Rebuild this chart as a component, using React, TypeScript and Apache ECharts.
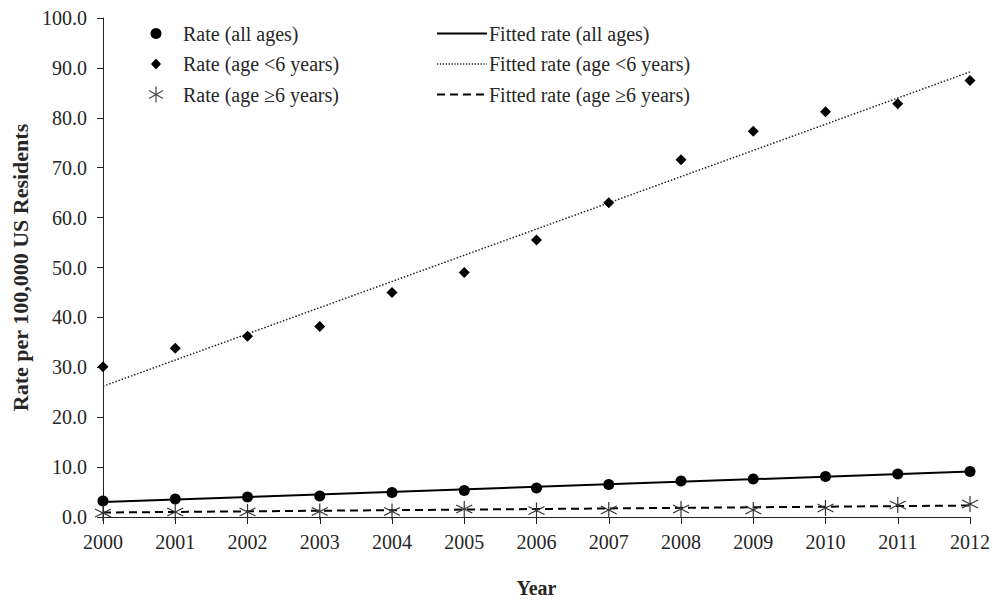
import React, { useEffect, useRef } from "react";
import * as echarts from "echarts";

const years = ["2000","2001","2002","2003","2004","2005","2006","2007","2008","2009","2010","2011","2012"];
const rateAll = [3.2, 3.6, 4.0, 4.2, 4.9, 5.3, 5.8, 6.5, 7.2, 7.6, 8.1, 8.6, 9.1];
const rateUnder6 = [30.1, 33.8, 36.2, 38.2, 45.0, 49.0, 55.5, 63.0, 71.6, 77.3, 81.2, 82.8, 87.5];
const rateOver6 = [0.8, 1.0, 1.0, 1.1, 1.1, 1.6, 1.3, 1.4, 1.6, 1.4, 1.8, 2.4, 2.6];
// fitted trend lines: values read at the first and last year only
const fitAll = [3.0, null, null, null, null, null, null, null, null, null, null, null, 9.1];
const fitUnder6 = [26.2, null, null, null, null, null, null, null, null, null, null, null, 89.2];
const fitOver6 = [0.9, null, null, null, null, null, null, null, null, null, null, null, 2.3];
const yTicks = { min: 0, max: 100, interval: 10 };

const FONT = "'Liberation Serif', 'Times New Roman', serif";
const TXT = "#262626";
const ASTERISK = "path://M10,0 L10,20 M1.34,5 L18.66,15 M1.34,15 L18.66,5";

export default function App() {
  const ref = useRef<HTMLDivElement>(null);
  useEffect(() => {
    if (!ref.current) return;
    const chart = echarts.init(ref.current, null, { renderer: "svg" });
    const rows = [33.5, 64, 94.5];
    const lx = 156;
    const tx = 183;
    const rx1 = 437, rx2 = 487, rtx = 489;
    const textStyle = (x: number, y: number, t: string) => ({
      type: "text", x, y,
      style: { text: t, font: `20px ${FONT}`, fill: TXT, textVerticalAlign: "middle", textAlign: "left" },
    });
    const ast = (cx: number, cy: number, r: number) => [
      { type: "line", shape: { x1: cx, y1: cy - r, x2: cx, y2: cy + r }, style: { stroke: "#444", lineWidth: 1.2 } },
      { type: "line", shape: { x1: cx - r * 0.87, y1: cy - r * 0.5, x2: cx + r * 0.87, y2: cy + r * 0.5 }, style: { stroke: "#444", lineWidth: 1.2 } },
      { type: "line", shape: { x1: cx - r * 0.87, y1: cy + r * 0.5, x2: cx + r * 0.87, y2: cy - r * 0.5 }, style: { stroke: "#444", lineWidth: 1.2 } },
    ];
    chart.setOption({
      animation: false,
      backgroundColor: "#fff",
      grid: { left: 103, right: 33, top: 18, bottom: 79, containLabel: false },
      xAxis: {
        type: "category",
        data: years,
        boundaryGap: false,
        name: "Year",
        nameLocation: "middle",
        nameGap: 61,
        nameTextStyle: { fontFamily: FONT, fontSize: 20, fontWeight: "bold", color: TXT },
        axisLine: { lineStyle: { color: "#222", width: 1 } },
        axisTick: { show: true, length: 7, alignWithLabel: true, lineStyle: { color: "#222" } },
        axisLabel: { fontFamily: FONT, fontSize: 20, color: TXT, margin: 15, interval: 0 },
        splitLine: { show: false },
      },
      yAxis: {
        type: "value",
        min: yTicks.min,
        max: yTicks.max,
        interval: yTicks.interval,
        name: "Rate per 100,000 US Residents",
        nameLocation: "middle",
        nameGap: 67,
        nameRotate: 90,
        nameTextStyle: { fontFamily: FONT, fontSize: 22, fontWeight: "bold", color: TXT },
        axisLine: { show: true, lineStyle: { color: "#222", width: 1 } },
        axisTick: { show: true, length: 6, lineStyle: { color: "#222" } },
        axisLabel: { fontFamily: FONT, fontSize: 20, color: TXT, margin: 16, formatter: (v: number) => v.toFixed(1) },
        splitLine: { show: false },
      },
      series: [
        {
          name: "Fitted rate (all ages)", type: "line", data: fitAll, connectNulls: true, showSymbol: false, symbol: "none",
          lineStyle: { color: "#000", width: 2, type: "solid" }, z: 2,
        },
        {
          name: "Fitted rate (age <6 years)", type: "line", data: fitUnder6, connectNulls: true, showSymbol: false, symbol: "none",
          lineStyle: { color: "#222", width: 1.5, type: [1.5, 1.8] }, z: 2,
        },
        {
          name: "Fitted rate (age \u22656 years)", type: "line", data: fitOver6, connectNulls: true, showSymbol: false, symbol: "none",
          lineStyle: { color: "#000", width: 2, type: [8, 5] }, z: 2,
        },
        {
          name: "Rate (all ages)", type: "scatter", data: rateAll, symbol: "circle", symbolSize: 11,
          itemStyle: { color: "#000", opacity: 1 }, z: 5,
        },
        {
          name: "Rate (age <6 years)", type: "scatter", data: rateUnder6, symbol: "diamond", symbolSize: [11, 11],
          itemStyle: { color: "#000", opacity: 1 }, z: 5,
        },
        {
          name: "Rate (age \u22656 years)", type: "scatter", data: rateOver6, symbol: ASTERISK, symbolSize: 16,
          itemStyle: { color: "rgba(0,0,0,0)", borderColor: "#333", borderWidth: 1.2, opacity: 1 }, z: 5,
        },
      ],
      graphic: [
        { type: "circle", shape: { cx: lx, cy: rows[0], r: 5.5 }, style: { fill: "#000" } },
        { type: "polygon", shape: { points: [[lx, rows[1] - 5.5], [lx + 5, rows[1]], [lx, rows[1] + 5.5], [lx - 5, rows[1]]] }, style: { fill: "#000" } },
        ...ast(lx, rows[2], 8),
        textStyle(tx, rows[0], "Rate (all ages)"),
        textStyle(tx, rows[1], "Rate (age <6 years)"),
        textStyle(tx, rows[2], "Rate (age \u22656 years)"),
        { type: "line", shape: { x1: rx1, y1: rows[0], x2: rx2, y2: rows[0] }, style: { stroke: "#000", lineWidth: 2 } },
        { type: "line", shape: { x1: rx1, y1: rows[1], x2: rx2, y2: rows[1] }, style: { stroke: "#222", lineWidth: 1.3, lineDash: [1.3, 1.6] } },
        { type: "line", shape: { x1: rx1, y1: rows[2], x2: rx2, y2: rows[2] }, style: { stroke: "#000", lineWidth: 2, lineDash: [8, 5] } },
        textStyle(rtx, rows[0], "Fitted rate (all ages)"),
        textStyle(rtx, rows[1], "Fitted rate (age <6 years)"),
        textStyle(rtx, rows[2], "Fitted rate (age \u22656 years)"),
      ],
    });
    return () => chart.dispose();
  }, []);
  return (
    <div
      ref={ref}
      style={{ position: "fixed", left: 0, top: 0, width: 1003, height: 603, background: "#fff" }}
    />
  );
}
